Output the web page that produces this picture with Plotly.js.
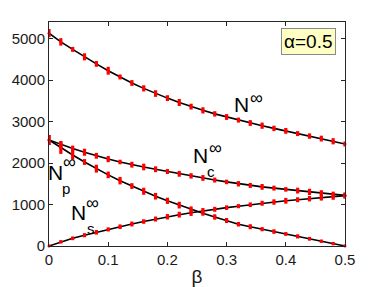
<!DOCTYPE html>
<html><head><meta charset="utf-8">
<script src="https://cdn.plot.ly/plotly-3.0.1.min.js"></script>
<style>html,body{margin:0;padding:0;background:#fff}#g{width:381px;height:287px}</style>
</head><body><div id="g"></div>
<script>
var beta = [0,0.02,0.04,0.06,0.08,0.10,0.12,0.14,0.16,0.18,0.20,0.22,0.24,0.26,0.28,0.30,0.32,0.34,0.36,0.38,0.40,0.42,0.44,0.46,0.48,0.50];
var Ninf = [5130,4920,4740,4560,4390,4225,4075,3930,3800,3675,3565,3460,3360,3270,3185,3110,3035,2965,2900,2835,2775,2710,2650,2590,2525,2460];
var Ninf_err = [100,90,60,85,70,95,60,70,75,80,70,85,70,75,65,70,60,70,75,65,70,60,65,70,75,60];
var Nc = [2555,2450,2350,2260,2175,2095,2025,1960,1905,1850,1795,1740,1690,1640,1590,1545,1500,1460,1425,1395,1365,1335,1305,1275,1245,1220];
var Nc_err = [120,80,70,85,70,75,55,70,80,70,60,70,65,70,60,55,65,60,70,60,55,70,75,70,65,70];
var Np = [2555,2370,2195,2025,1865,1715,1575,1445,1320,1200,1090,985,885,790,700,615,525,465,405,348,290,232,174,116,58,0];
var Np_err = [120,150,110,70,95,80,90,70,85,80,75,80,70,60,65,60,55,60,50,55,45,50,45,40,40,35];
var Ns = [0,100,185,260,330,400,465,530,590,650,705,755,800,845,885,925,960,995,1030,1060,1090,1115,1140,1165,1190,1215];
var Ns_err = [35,40,45,50,55,50,55,60,55,60,65,70,75,70,60,55,50,55,60,65,70,60,65,70,75,70];
var xTicks = [0,0.1,0.2,0.3,0.4,0.5];
var xTickText = ['0','0.1','0.2','0.3','0.4','0.5'];
var yTicks = [0,1000,2000,3000,4000,5000];
var yTickText = ['0','1000','2000','3000','4000','5000'];

var series = [[Ninf,Ninf_err],[Nc,Nc_err],[Np,Np_err],[Ns,Ns_err]];
var traces = [];
series.forEach(function(s){
  traces.push({x:beta,y:s[0],mode:'lines',line:{color:'#000',width:1.6},showlegend:false,hoverinfo:'skip',cliponaxis:false});
});
series.forEach(function(s){
  traces.push({x:beta,y:s[0],mode:'markers',marker:{color:'red',size:3},
    error_y:{type:'data',array:s[1],visible:true,color:'red',thickness:3.2,width:0},
    showlegend:false,cliponaxis:false});
});

var F = 'Liberation Sans, Arial, Helvetica, sans-serif';
function ann(x,y,t,sz){return {x:x,y:y,xref:'x',yref:'y',text:t,showarrow:false,xanchor:'center',yanchor:'middle',font:{family:F,size:sz,color:'#000'}};}
var annotations = [
  ann(0.326,3404,'N',21), ann(0.350,3575,'∞',18),
  ann(0.256,2182,'N',21), ann(0.281,2366,'∞',18), ann(0.274,1807,'c',15),
  ann(0.0118,1771,'N',21), ann(0.0350,2027,'∞',18), ann(0.0287,1396,'p',15),
  ann(0.0506,815,'N',21), ann(0.0738,1035,'∞',18), ann(0.0708,416,'s',15),
  {x:0.878,y:0.915,xref:'paper',yref:'paper',text:'α=0.5',showarrow:false,xanchor:'center',yanchor:'middle',
   font:{family:F,size:19,color:'#000'},bgcolor:'#ffffc4',bordercolor:'#8a8a8a',borderwidth:1,borderpad:2}
];

var axCommon = {showgrid:false,zeroline:false,showline:true,linecolor:'#262626',linewidth:1,mirror:'ticks',
  ticks:'inside',ticklen:4,tickcolor:'#262626',tickfont:{family:F,size:15,color:'#1a1a1a'}};
var layout = {
  width:381,height:287,margin:{l:49,r:36,t:22,b:41},
  paper_bgcolor:'#fff',plot_bgcolor:'#fff',
  xaxis:Object.assign({},axCommon,{range:[0,0.5],tickmode:'array',tickvals:xTicks,ticktext:xTickText,
    title:{text:'β',font:{family:F,size:19,color:'#1a1a1a'},standoff:2}}),
  yaxis:Object.assign({},axCommon,{range:[0,5400],tickmode:'array',tickvals:yTicks,ticktext:yTickText}),
  annotations:annotations
};
Plotly.newPlot('g',traces,layout,{staticPlot:true,displayModeBar:false});
</script></body></html>
